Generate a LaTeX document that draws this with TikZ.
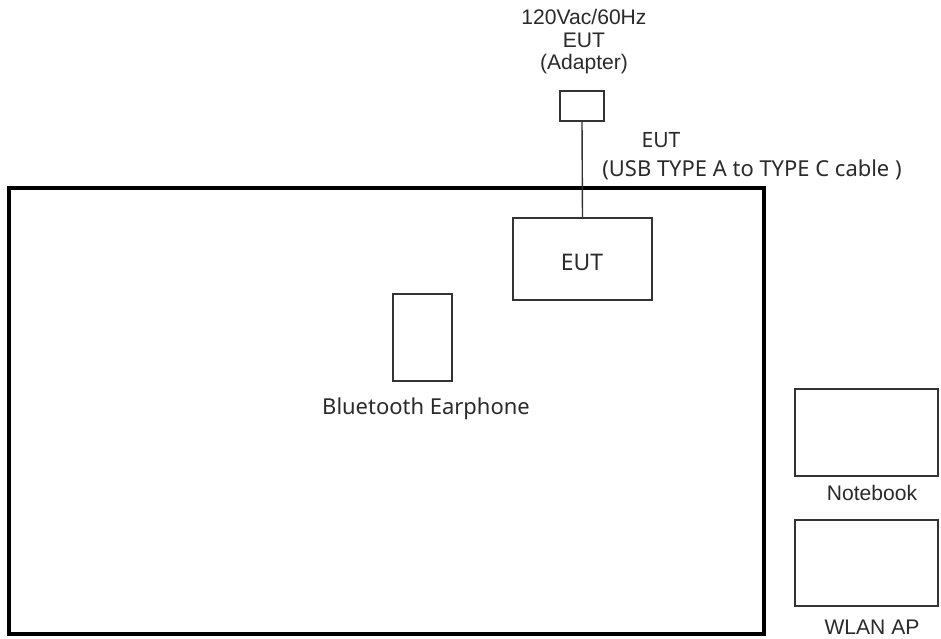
\documentclass[tikz,border=0pt]{standalone}
\usepackage{fontspec}
\setmainfont{Liberation Sans}
\newfontfamily\segoe{Noto Sans}
\usetikzlibrary{positioning}
\definecolor{BoxGray}{HTML}{333333}
\definecolor{TxtGray}{HTML}{2A2A2A}

\begin{document}
\begin{tikzpicture}[x=0.02cm,y=-0.02cm]
  \tikzset{
    unit/.style={draw=BoxGray,line width=.8pt,inner sep=0pt,fill=white},
    lbl/.style={text=TxtGray,inner sep=0pt,align=center,font=\fontsize{12}{12.8}\selectfont},
    slbl/.style={text=TxtGray,inner sep=0pt,align=center,font=\segoe\fontsize{12.5}{14}\selectfont}
  }
  \useasboundingbox (0,0) rectangle (941,639);
  % test table
  \node[draw=black,line width=2.3pt,inner sep=0pt,minimum width=15.1cm,minimum height=8.92cm] (table) at (386.5,411) {};

  % adapter and EUT
  \node[unit,minimum width=.88cm,minimum height=.6cm] (adapter) at (582,106) {};
  \node[lbl] (adlbl) at (584,42) {120Vac/60Hz\\EUT\\(Adapter)};
  \node[unit,minimum width=2.78cm,minimum height=1.64cm] (eut) at (582.5,259) {};
  \node[slbl,font=\segoe\fontsize{13}{14}\selectfont] at (582,262) {EUT};
  \draw[BoxGray,line width=.8pt] (adapter.south) -- (eut.north);
  \node[slbl,font=\segoe\fontsize{12}{14}\selectfont] (cbl) at (661,140) {EUT};
  \node[slbl] (cbltype) at (752,170) {(USB TYPE A to TYPE C cable )};

  % support units
  \node[unit,minimum width=1.18cm,minimum height=1.74cm] (ear) at (422.5,337.5) {};
  \node[slbl] (earlbl) at (426,409) {Bluetooth Earphone};
  \node[unit,minimum width=2.86cm,minimum height=1.74cm] (nb) at (866.5,432.5) {};
  \node[lbl,font=\fontsize{12}{13}\selectfont] (nblbl) at (872,493) {Notebook};
  \node[unit,minimum width=2.86cm,minimum height=1.72cm] (ap) at (866.5,563) {};
  \node[lbl,font=\fontsize{12}{13}\selectfont] (aplbl) at (872,627) {WLAN AP};
\end{tikzpicture}
\end{document}
